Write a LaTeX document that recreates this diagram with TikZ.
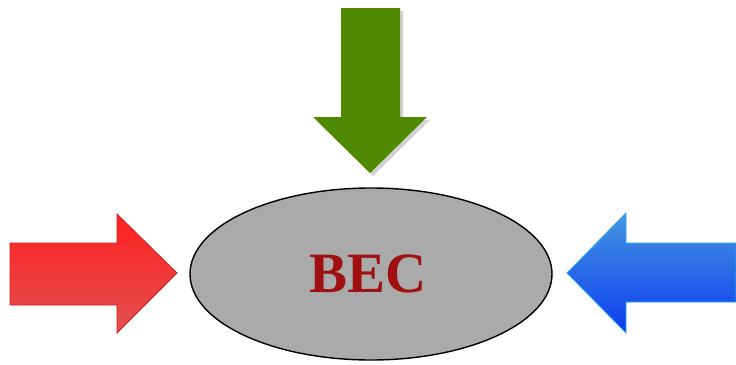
\documentclass[tikz,border=0pt]{standalone}
\usepackage{fontspec}
\setmainfont{Liberation Serif}
\usetikzlibrary{shadows}
\definecolor{becred}{HTML}{A01010}
\definecolor{arrgreen}{HTML}{4F8A00}
\begin{document}
\begin{tikzpicture}[x=1pt,y=-1pt,
  fatarrow/.style={line width=0.8pt, line join=miter},
  ovalstyle/.style={draw=black, line width=1.4pt, fill={rgb,255:red,170;green,170;blue,170}}]
\useasboundingbox (0,0) rectangle (736,364);
% ellipse
\draw[ovalstyle] (371,274) ellipse [x radius=181, y radius=86];
\node[font=\bfseries\fontsize{57}{60}\selectfont, text=becred] (bec) at (368,274) {BEC};
% green arrow with shadow
\fill[black!35, opacity=0.5] (344,11) -- (403,11) -- (403,120) -- (430,120) -- (373,176) -- (316,120) -- (344,120) -- cycle;
\fill[arrgreen] (341,8) -- (400,8) -- (400,117) -- (427,117) -- (370,173) -- (313,117) -- (341,117) -- cycle;
% red arrow
\shade[top color={rgb,255:red,255;green,32;blue,32}, bottom color={rgb,255:red,225;green,80;blue,80}, draw={rgb,255:red,210;green,30;blue,30}, fatarrow]
  (10,243) -- (117,243) -- (117,214) -- (177,273) -- (117,333) -- (117,305) -- (10,305) -- cycle;
% blue arrow
\shade[top color={rgb,255:red,70;green,150;blue,225}, bottom color={rgb,255:red,10;green,60;blue,240}, draw={rgb,255:red,40;green,170;blue,230}, fatarrow]
  (736,243) -- (626,243) -- (626,213) -- (567,273) -- (626,333) -- (626,302) -- (736,302) -- cycle;
\end{tikzpicture}
\end{document}
